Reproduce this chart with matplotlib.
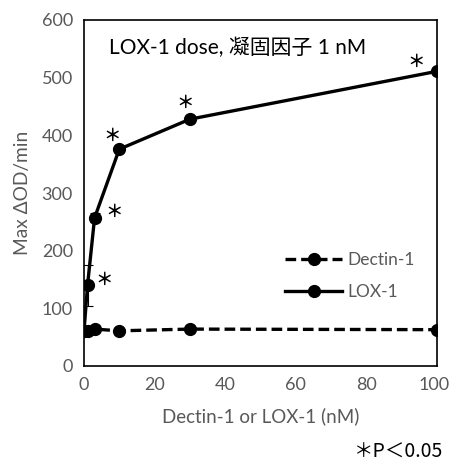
import matplotlib
matplotlib.use("Agg")
import matplotlib.pyplot as plt
import matplotlib.transforms as mtransforms

plt.rcParams['font.family'] = ['Lato', 'Noto Sans CJK JP', 'DejaVu Sans']

# data
conc = [0, 1, 3, 10, 30, 100]
dectin = [60, 60, 64, 61, 64, 63]
lox = [60, 140, 257, 376, 428, 511]
lox_err = [0, 36, 8, 3, 3, 3]
star_x = [1, 3, 10, 30, 100]

GRAY = '#595959'

fig = plt.figure(figsize=(4.51, 4.63), dpi=100)
ax = fig.add_axes([84/451, 1-366/463, (437-84)/451, (366-20)/463])

ax.errorbar(conc, lox, yerr=lox_err, fmt='none', ecolor='black',
            elinewidth=0.8, capsize=3.5, capthick=0.8, zorder=2)
ax.plot(conc, lox, color='black', lw=2.4, marker='o', ms=8.5,
        label='LOX-1', zorder=3)
ax.plot(conc, dectin, color='black', lw=2.4, ls=(0, (3.2, 1.5)), marker='o', ms=8.5,
        label='Dectin-1', zorder=4)

# significance stars (offsets in points)
offs = {1: (12, 4), 3: (14, 4.5), 10: (-5, 9.5), 30: (-3.5, 11.5), 100: (-15, 7)}
for x in star_x:
    y = lox[conc.index(x)]
    dx, dy = offs[x]
    ax.annotate('＊', (x, y), xytext=(dx, dy), textcoords='offset points',
                ha='center', va='center', fontsize=12.5, color='black',
                fontweight='bold', family=['Noto Sans CJK JP'])

ax.set_xlim(0, 100)
ax.set_ylim(0, 600)
ax.set_xticks(range(0, 101, 20))
ax.set_yticks(range(0, 601, 100))
ax.tick_params(length=0, colors=GRAY, labelsize=13, pad=8)
for s in ax.spines.values():
    s.set_linewidth(1.2)
    s.set_color('black')

# keep the "100" label inside the figure
fig.canvas.draw()
last = ax.get_xticklabels()[-1]
last.set_transform(last.get_transform() +
                   mtransforms.ScaledTranslation(-3/100, 0, fig.dpi_scale_trans))

ax.set_xlabel('Dectin-1 or LOX-1 (nM)', color=GRAY, fontsize=13.5, labelpad=10)
ax.set_ylabel('Max ΔOD/min', color=GRAY, fontsize=13.8, labelpad=8)

ax.text(0.07, 0.92, 'LOX-1 dose, 凝固因子 1 nM', transform=ax.transAxes,
        fontsize=15, va='center', ha='left')

h, l = ax.get_legend_handles_labels()
order = [l.index('Dectin-1'), l.index('LOX-1')]
leg = ax.legend([h[i] for i in order], [l[i] for i in order], loc='center left',
                bbox_to_anchor=(0.525, 0.26), frameon=False, fontsize=12.5,
                handlelength=3.3, handletextpad=0.3, labelspacing=0.9)
for t in leg.get_texts():
    t.set_color(GRAY)

fig.text(0.982, 0.024, '＊P＜0.05', ha='right', va='center', fontsize=14,
         family=['Noto Sans CJK JP', 'DejaVu Sans'])

fig.savefig('out.png', dpi=100)
